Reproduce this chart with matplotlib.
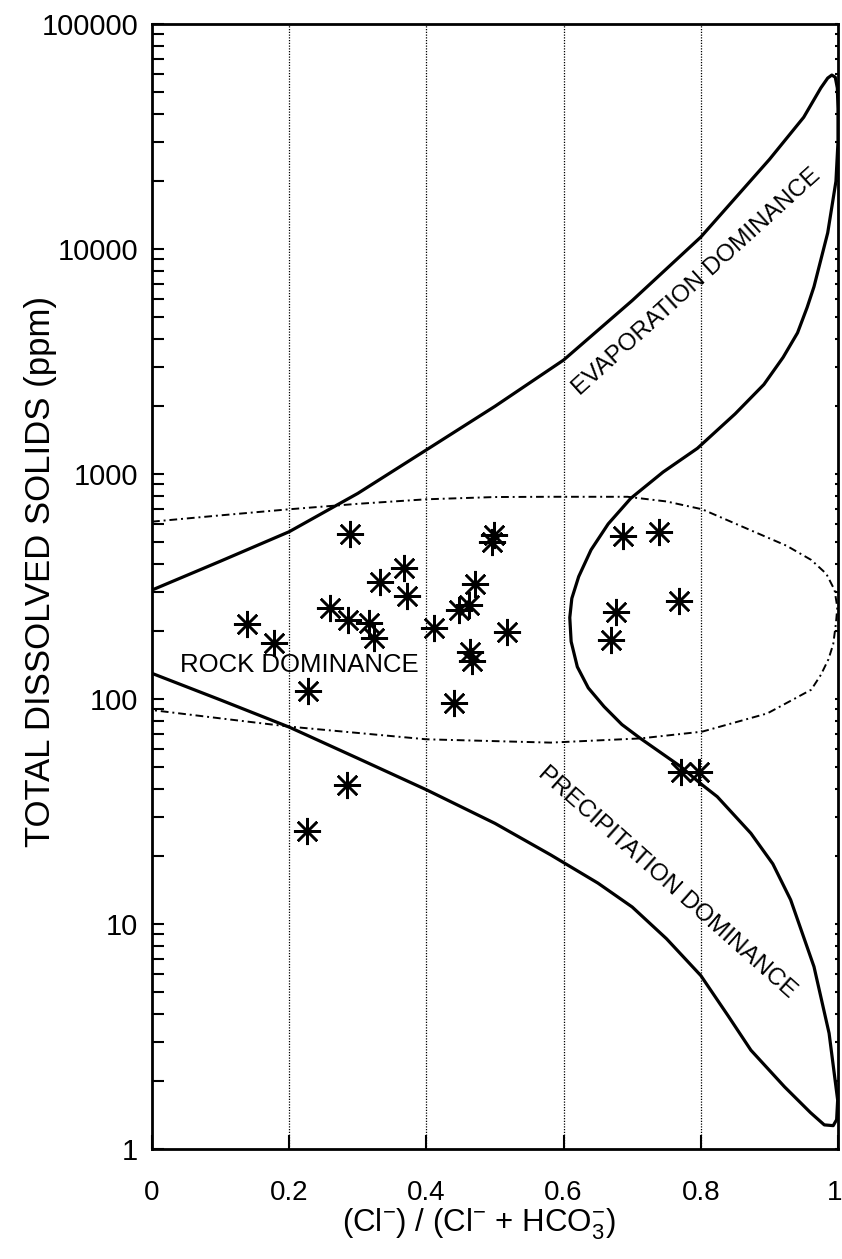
import matplotlib
matplotlib.use("Agg")
import matplotlib.pyplot as plt
from matplotlib.ticker import LogLocator, NullFormatter
from matplotlib.transforms import ScaledTranslation

plt.rcParams['font.family'] = ['Liberation Sans', 'DejaVu Sans']
plt.rcParams['mathtext.fontset'] = 'custom'
plt.rcParams['mathtext.rm'] = 'Liberation Sans'
plt.rcParams['mathtext.it'] = 'Liberation Sans:italic'
plt.rcParams['mathtext.bf'] = 'Liberation Sans:bold'

# ---- data: sample points (Cl/(Cl+HCO3), TDS ppm) ----
sample_x = [0.288, 0.368, 0.333, 0.371, 0.260, 0.285, 0.316, 0.324, 0.139, 0.178,
            0.228, 0.284, 0.226, 0.498, 0.496, 0.471, 0.447, 0.462, 0.411, 0.518,
            0.464, 0.467, 0.440, 0.686, 0.739, 0.768, 0.677, 0.669, 0.771, 0.797]
sample_tds = [541, 381, 330, 288, 253, 224, 217, 186, 215, 177,
              108, 41.5, 26, 535, 500, 325, 249, 262, 206, 199,
              162, 147, 96, 530, 554, 273, 243, 183, 47.5, 47.5]

# ---- Gibbs boundary (closed outline) ----
boundary_x = [0.00, 0.10, 0.20, 0.30, 0.40, 0.50, 0.60, 0.70, 0.80, 0.90,
              0.95, 0.975, 0.985, 0.991, 0.996, 0.999, 1.000, 1.000, 0.997, 0.985,
              0.965, 0.955, 0.941, 0.920, 0.892, 0.850, 0.795, 0.745, 0.698, 0.665,
              0.640, 0.622, 0.612, 0.609, 0.611, 0.620, 0.636, 0.659, 0.685, 0.712,
              0.771, 0.800, 0.824, 0.873, 0.905, 0.931, 0.965, 0.987, 0.9995, 0.998,
              0.993, 0.980, 0.960, 0.922, 0.873, 0.840, 0.800, 0.750, 0.700, 0.650,
              0.581, 0.50, 0.40, 0.30, 0.20, 0.10, 0.00]
boundary_tds = [305, 410, 554, 820, 1280, 2000, 3210, 5900, 11300, 25000,
                38500, 52000, 57500, 59300, 58000, 52000, 42000, 30000, 20000, 11800,
                6800, 5500, 4240, 3300, 2500, 1850, 1300, 1020, 780, 600,
                460, 350, 280, 230, 180, 139, 112, 92.5, 77, 66.8,
                50, 42, 36.8, 25.3, 18.5, 12.8, 6.46, 3.27, 1.65, 1.35,
                1.27, 1.28, 1.45, 1.89, 2.75, 3.9, 5.9, 8.6, 11.9, 15.2,
                20.3, 28, 39.5, 54.5, 75, 99, 130]

# ---- rock dominance envelope (dash-dot) ----
rock_x = [0.00, 0.10, 0.20, 0.30, 0.40, 0.50, 0.58, 0.693, 0.75, 0.802,
          0.883, 0.925, 0.961, 0.983, 0.995, 0.999, 0.997, 0.993, 0.986, 0.975,
          0.961, 0.897, 0.802, 0.712, 0.581, 0.40, 0.20, 0.10, 0.00]
rock_tds = [614, 655, 697, 737, 772, 790, 792, 792, 755, 697,
            545, 480, 415, 360, 305, 255, 217, 175, 150, 128,
            110, 86.3, 71.6, 66.8, 64, 66.2, 75.4, 82, 89.3]

x_ticks = [0, 0.2, 0.4, 0.6, 0.8, 1]
x_tick_labels = ['0', '0.2', '0.4', '0.6', '0.8', '1']
y_ticks = [1, 10, 100, 1000, 10000, 100000]
y_tick_labels = ['1', '10', '100', '1000', '10000', '100000']
grid_x = [0.2, 0.4, 0.6, 0.8]

W, H = 842, 1259
fig = plt.figure(figsize=(W / 100, H / 100), dpi=100)
ax = fig.add_axes([152 / W, 1 - 1149 / H, (838 - 152) / W, (1149 - 24) / H])

ax.set_yscale('log')
ax.set_xlim(0, 1)
ax.set_ylim(1, 100000)

for gx in grid_x:
    ax.axvline(gx, color='black', lw=0.9, ls=(0, (1, 1.2)), zorder=1)

ax.plot(boundary_x, boundary_tds, color='black', lw=2.3, solid_joinstyle='round',
        solid_capstyle='round', zorder=3)
ax.plot(rock_x, rock_tds, color='black', lw=1.4, ls=(0, (4, 2, 1, 2)), zorder=2)

ax.plot(sample_x, sample_tds, ls='none', marker=(8, 2, 0), markersize=19.5,
        markeredgewidth=1.8, color='black', zorder=4)

ax.text(0.215, 141.6, 'ROCK DOMINANCE', fontsize=18.5, ha='center', va='center', zorder=5)
ax.text(0.794, 7130, 'EVAPORATION DOMINANCE', fontsize=17.5, rotation=42.2,
        rotation_mode='anchor', ha='center', va='center', zorder=5)
ax.text(0.751, 15.3, 'PRECIPITATION DOMINANCE', fontsize=17.5, rotation=-41.6,
        rotation_mode='anchor', ha='center', va='center', zorder=5)

ax.set_xticks(x_ticks)
ax.set_xticklabels(x_tick_labels, fontsize=20)
ax.set_yticks(y_ticks)
ax.set_yticklabels(y_tick_labels, fontsize=21)
ax.yaxis.set_minor_locator(LogLocator(base=10, subs=range(2, 10), numticks=20))
ax.yaxis.set_minor_formatter(NullFormatter())

ax.tick_params(axis='y', which='both', direction='in', left=True, right=True,
               length=8.5, width=1.5, pad=10)
ax.tick_params(axis='x', which='major', direction='in', bottom=True, top=False,
               length=10, width=1.5, pad=22)
for t in ax.yaxis.get_ticklines(minor=False)[1::2] + ax.yaxis.get_ticklines(minor=True)[1::2]:
    t.set_markersize(2.5)

# keep the last x tick label inside the figure
last = ax.get_xticklabels()[-1]
last.set_horizontalalignment('right')
last.set_transform(last.get_transform() + ScaledTranslation(4 / 100, 0, fig.dpi_scale_trans))

for s in ax.spines.values():
    s.set_linewidth(2.0)

ax.set_xlabel(r'(Cl$^{-}$) / (Cl$^{-}$ + HCO$_{3}^{-}$)', fontsize=22.5)
ax.xaxis.set_label_coords((479 - 152) / 686, (1149 - 1206) / 1125)

fig.text(41 / W, 1 - 572 / H, 'TOTAL DISSOLVED SOLIDS (ppm)', rotation=90,
         ha='center', va='center', fontsize=25)

fig.savefig('out.png', dpi=100)
